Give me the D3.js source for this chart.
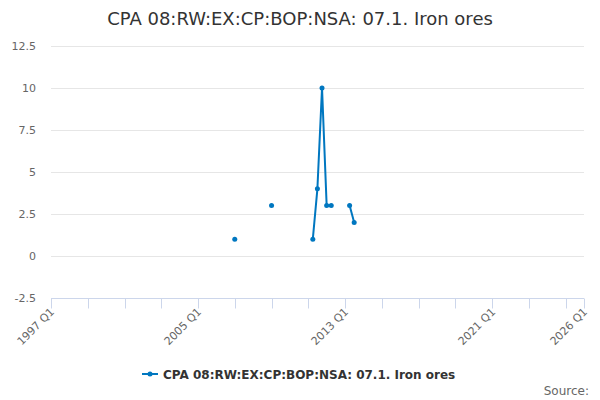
<!DOCTYPE html>
<html><head><meta charset="utf-8">
<script src="https://cdn.jsdelivr.net/npm/d3@7/dist/d3.min.js"></script>
<style>body{margin:0;background:#fff;}svg{display:block;font-family:"DejaVu Sans",sans-serif;}</style>
</head><body><svg id="c" width="600" height="400"></svg>
<script>
const title = "CPA 08:RW:EX:CP:BOP:NSA: 07.1. Iron ores";
const seriesName = "CPA 08:RW:EX:CP:BOP:NSA: 07.1. Iron ores";
const quarters = ["2007 Q1","2007 Q2","2007 Q3","2007 Q4","2008 Q1","2008 Q2","2008 Q3","2008 Q4",
  "2009 Q1","2009 Q2","2009 Q3","2009 Q4","2010 Q1","2010 Q2","2010 Q3","2010 Q4",
  "2011 Q1","2011 Q2","2011 Q3","2011 Q4","2012 Q1","2012 Q2","2012 Q3","2012 Q4",
  "2013 Q1","2013 Q2","2013 Q3"];
const values = [1,null,null,null,null,null,null,null,
  3,null,null,null,null,null,null,null,
  null,1,4,10,3,3,null,null,
  null,3,2];
const yTicks = [-2.5,0,2.5,5,7.5,10,12.5];
const xMinorYears = [1997,1999,2001,2003,2005,2007,2009,2011,2013,2015,2017,2019,2021,2023,2025,2026];
const xLabelYears = [1997,2005,2013,2021,2026];

const parseQ = s => { const [y,q] = s.split(" Q"); return new Date(+y, (+q-1)*3, 1); };
const data = quarters.map((q,i)=>({d:parseQ(q), v:values[i]}));

const svg = d3.select("#c");
const L = 51, R = 584, T = 46, B = 298;
const x = d3.scaleTime().domain([new Date(1997,0,1), new Date(2026,0,1)]).range([L,R]);
const y = d3.scaleLinear().domain([-2.5,12.5]).range([B,T]);

svg.append("text").attr("x",300).attr("y",25).attr("text-anchor","middle")
  .attr("font-size",18).attr("fill","#333").text(title);

// grid
svg.append("g").selectAll("line").data(yTicks.filter(t=>t>-2.5)).join("line")
  .attr("x1",L).attr("x2",R).attr("y1",d=>Math.round(y(d))+0.5).attr("y2",d=>Math.round(y(d))+0.5)
  .attr("stroke","#e6e6e6").attr("stroke-width",1);
svg.append("g").selectAll("text").data(yTicks).join("text")
  .attr("x",36).attr("y",d=>y(d)+4).attr("text-anchor","end")
  .attr("font-size",11).attr("fill","#666").text(d=>d);

// x axis
const gx = svg.append("g").attr("transform",`translate(0,${B+0.5})`);
gx.append("line").attr("x1",L).attr("x2",R).attr("stroke","#ccd6eb");
gx.selectAll("line.t").data(xMinorYears).join("line").attr("class","t")
  .attr("x1",d=>Math.round(x(new Date(d,0,1)))+0.5).attr("x2",d=>Math.round(x(new Date(d,0,1)))+0.5)
  .attr("y1",0).attr("y2",10).attr("stroke","#ccd6eb");
gx.selectAll("text").data(xLabelYears).join("text")
  .attr("transform",d=>`translate(${x(new Date(d,0,1))+4},${14}) rotate(-45)`)
  .attr("text-anchor","end").attr("font-size",11).attr("fill","#666").text(d=>d+" Q1");

// line
const color = "#0077c0";
const line = d3.line().defined(d=>d.v!==null).x(d=>x(d.d)).y(d=>y(d.v));
svg.append("path").datum(data).attr("d",line).attr("fill","none")
  .attr("stroke",color).attr("stroke-width",2).attr("stroke-linejoin","round");
svg.append("g").selectAll("circle").data(data.filter(d=>d.v!==null)).join("circle")
  .attr("cx",d=>x(d.d)).attr("cy",d=>y(d.v)).attr("r",2.5).attr("fill",color);

// legend
const lg = svg.append("g").attr("transform","translate(142,374)");
lg.append("line").attr("x1",0).attr("x2",16).attr("y1",0).attr("y2",0).attr("stroke",color).attr("stroke-width",2);
lg.append("circle").attr("cx",8).attr("cy",0).attr("r",2.5).attr("fill",color);
lg.append("text").attr("x",21).attr("y",4.5).attr("font-size",12).attr("font-weight","bold").attr("fill","#333").text(seriesName);

svg.append("text").attr("x",589).attr("y",395).attr("text-anchor","end")
  .attr("font-size",12).attr("fill","#666").text("Source:");
</script></body></html>
